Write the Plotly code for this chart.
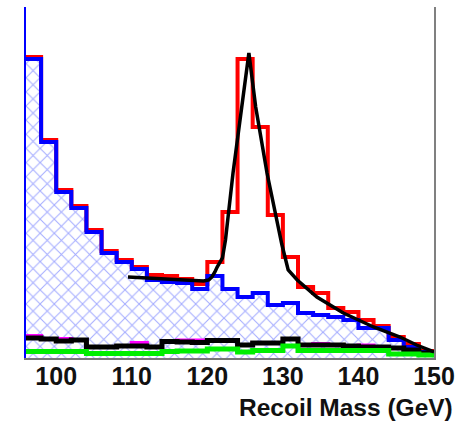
import plotly.graph_objects as go

# Bin edges (GeV), 2 GeV bins from 96 to 150
bin_low = [96, 98, 100, 102, 104, 106, 108, 110, 112, 114, 116, 118, 120, 122,
           124, 126, 128, 130, 132, 134, 136, 138, 140, 142, 144, 146, 148]
bin_width = 2

# Stacked total (signal + background), red
total = [301, 218, 168, 152, 128, 107, 98, 91, 83, 82, 79, 74, 96, 146,
         299, 231, 143, 101, 71, 65, 50, 46, 38, 32, 21, 14, 7]
# Background (blue, hatched)
background = [299, 216, 166, 150, 126, 105, 96, 89, 78, 76, 75, 69, 82, 69,
              61, 65, 53, 55, 45, 43, 41, 38, 30, 30, 18, 11, 6]
# Small backgrounds near the bottom
bkg_black = [20, 19, 17, 18, 11, 11, 12, 12, 11, 16.5, 16, 15.5, 17.5, 17.5,
             13, 15, 15, 19, 13, 13, 13, 12, 11, 11, 10, 8, 5]
bkg_magenta = [22, 19, 19, 18, 11, 11, 12, 15, 11, 16.5, 17.5, 17.5, 17.5, 17.5,
               13, 15, 15, 19, 13, 14, 13, 12, 12.5, 11, 10, 8, 5]
bkg_green = [6.5, 6.5, 6.5, 6.5, 4.5, 4.5, 4.5, 4.5, 4.5, 6.5, 7, 7, 9, 9,
             6, 7.5, 7.5, 12, 7.5, 7.5, 7.5, 7.5, 7.5, 7.5, 4, 4, 3]

# Fit curve (black)
fit_x = [109.5, 112, 114, 116, 118, 119.5, 120.2, 120.6, 121.0, 121.3, 122.0, 122.4,
         123.4, 124.6, 125.5, 126.4, 127.9, 129.85, 130.7, 131.9, 134.5, 138,
         142, 145.5, 147.7, 150]
fit_y = [81, 80, 79, 78, 77.5, 77, 78, 81, 86, 91, 100, 118,
         185, 251, 305, 251, 185, 114, 88, 78, 61, 45,
         31, 21, 13, 6]

tick_vals = [100, 110, 120, 130, 140, 150]
tick_text = ["100", "110", "120", "130", "140", "150"]
x_title = "Recoil Mass (GeV)"


def steps(vals):
    xs = list(bin_low) + [bin_low[-1] + bin_width]
    ys = list(vals) + [vals[-1]]
    return xs, ys


fig = go.Figure()

bx, by = steps(background)
fig.add_trace(go.Scatter(x=bx, y=by, mode="lines", line=dict(width=0, shape="hv"),
                         fill="tozeroy", fillcolor="rgba(0,0,0,0)",
                         fillpattern=dict(shape="x", fgcolor="#4a5aff", bgcolor="white",
                                          size=10, solidity=0.2),
                         hoverinfo="skip", showlegend=False))

rx, ry = steps(total)
fig.add_trace(go.Scatter(x=rx, y=ry, mode="lines",
                         line=dict(color="#ff0000", width=4, shape="hv"), showlegend=False))
fig.add_trace(go.Scatter(x=bx, y=by, mode="lines",
                         line=dict(color="#0000ff", width=4, shape="hv"), showlegend=False))

mx, my = steps(bkg_magenta)
fig.add_trace(go.Scatter(x=mx, y=my, mode="lines",
                         line=dict(color="#ff00ff", width=4, shape="hv"), showlegend=False))
kx, ky = steps(bkg_black)
fig.add_trace(go.Scatter(x=kx, y=ky, mode="lines",
                         line=dict(color="#000000", width=5, shape="hv"), showlegend=False))
gx, gy = steps(bkg_green)
fig.add_trace(go.Scatter(x=gx, y=gy, mode="lines",
                         line=dict(color="#00ee00", width=5, shape="hv"), showlegend=False))

fig.add_trace(go.Scatter(x=fit_x, y=fit_y, mode="lines",
                         line=dict(color="#000000", width=3.5), showlegend=False))

# invisible trace on y2 to get a right-hand frame line
fig.add_trace(go.Scatter(x=[bin_low[0]], y=[0], yaxis="y2", mode="markers",
                         marker=dict(opacity=0), hoverinfo="skip", showlegend=False))

fig.update_layout(
    width=465, height=422,
    margin=dict(l=26, r=31, t=7, b=64, autoexpand=False),
    paper_bgcolor="white", plot_bgcolor="white",
    xaxis=dict(range=[96, 150], tickvals=tick_vals, ticktext=tick_text,
               showgrid=False, zeroline=False, showline=True, linecolor="#777777",
               linewidth=1.5, ticks="", ticklabelstandoff=-5,
               tickfont=dict(family="Liberation Sans, Arial", size=25, color="#111111",
                             weight="bold")),
    yaxis=dict(range=[0, 351], showgrid=False, zeroline=False, showticklabels=False,
               showline=True, linecolor="#0000ff", linewidth=1.5, ticks=""),
    yaxis2=dict(range=[0, 351], overlaying="y", side="right", showgrid=False,
                zeroline=False, showticklabels=False, showline=True,
                linecolor="#808080", linewidth=2, ticks=""),
    annotations=[dict(text=x_title, xref="paper", yref="paper", x=1.052, y=-0.142,
                      xanchor="right", yanchor="middle", showarrow=False,
                      font=dict(family="Liberation Sans, Arial", size=24.5,
                                color="#111111", weight="bold"))],
)

fig.write_html("out.html", config={"displayModeBar": False},
               post_script="document.body.style.margin='0';document.body.style.overflow='hidden';")
